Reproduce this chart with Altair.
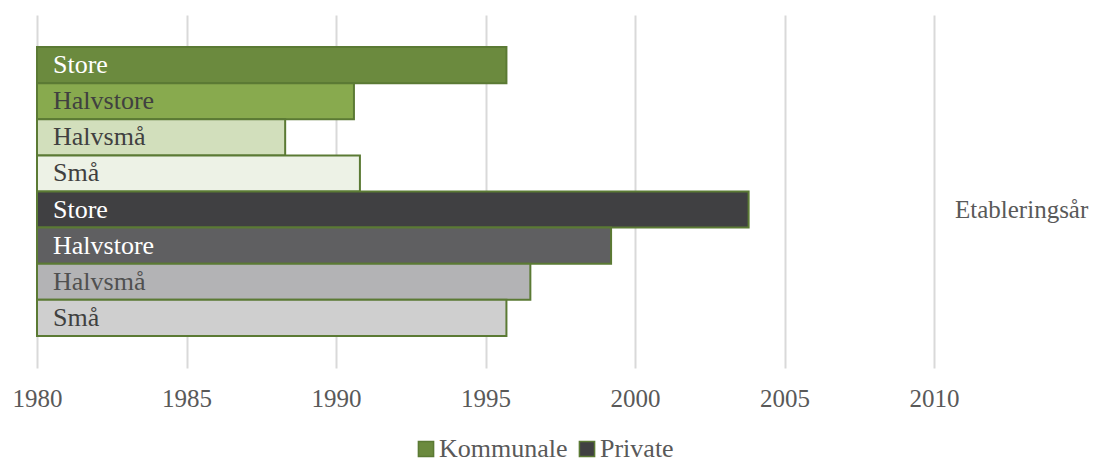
import altair as alt
import pandas as pd

groups = ["Kommunale", "Kommunale", "Kommunale", "Kommunale",
          "Private", "Private", "Private", "Private"]
sizes = ["Store", "Halvstore", "Halvsmå", "Små",
         "Store", "Halvstore", "Halvsmå", "Små"]
years = [1995.7, 1990.6, 1988.3, 1990.8, 2003.8, 1999.2, 1996.5, 1995.7]
fills = ["#6b8a3e", "#88aa4e", "#d2dfbc", "#edf2e6",
         "#404042", "#5f5f61", "#b3b3b5", "#cfcfcf"]
text_colors = ["#ffffff", "#404040", "#404040", "#404040",
               "#ffffff", "#ffffff", "#505050", "#404040"]
x_ticks = [1980, 1985, 1990, 1995, 2000, 2005, 2010]
axis_start = 1980
side_title = ["Etableringsår"]

keys = [f"{g}|{s}" for g, s in zip(groups, sizes)]
df = pd.DataFrame({"key": keys, "group": groups, "size": sizes,
                   "year": years, "tcolor": text_colors})

FONT = "Liberation Serif, Times New Roman, serif"
W, H = 897, 353

y_enc = alt.Y("key:N", sort=keys, axis=None,
              scale=alt.Scale(paddingInner=0, paddingOuter=0.886))

bars = alt.Chart(df).mark_bar(stroke="#5b7a34", strokeWidth=2).encode(
    x=alt.X("year:Q",
            scale=alt.Scale(domain=[1980, 2010], zero=False, nice=False),
            axis=alt.Axis(values=x_ticks, title=None, format="d",
                          grid=True, gridColor="#d9d9d9", gridWidth=2,
                          domain=False, ticks=False, labelPadding=18,
                          labelFlush=False, labelOverlap=False,
                          labelFont=FONT, labelFontSize=25,
                          labelColor="#595959")),
    x2=alt.datum(axis_start),
    y=y_enc,
    fill=alt.Fill("key:N",
                  scale=alt.Scale(domain=keys, range=fills),
                  legend=alt.Legend(
                      values=["Kommunale|Store", "Private|Store"],
                      labelExpr="split(datum.label, '|')[0]",
                      title=None, orient="none", direction="horizontal",
                      legendX=376, legendY=421,
                      symbolType="square", symbolSize=230,
                      symbolStrokeColor="#5b7a34", symbolStrokeWidth=1.5,
                      labelFont=FONT, labelFontSize=26, labelColor="#595959",
                      labelOffset=0, columnPadding=6)),
)

labels = alt.Chart(df).mark_text(
    align="left", baseline="middle", font=FONT, fontSize=26
).encode(
    x=alt.value(16),
    y=y_enc,
    text="size:N",
    color=alt.Color("tcolor:N", scale=None),
)

side = alt.Chart(pd.DataFrame({"t": side_title})).mark_text(
    align="left", baseline="middle", font=FONT, fontSize=25, color="#595959"
).encode(
    x=alt.value(W + 21),
    y=alt.value(195),
    text="t:N",
)

chart = alt.layer(bars, labels, side).properties(
    width=W, height=H,
    autosize=alt.AutoSizeParams(type="none"),
    padding={"left": 29, "top": 7, "right": 158, "bottom": 94},
).configure_view(stroke=None)

chart.save("out.html", embed_options={"renderer": "svg", "actions": False})
